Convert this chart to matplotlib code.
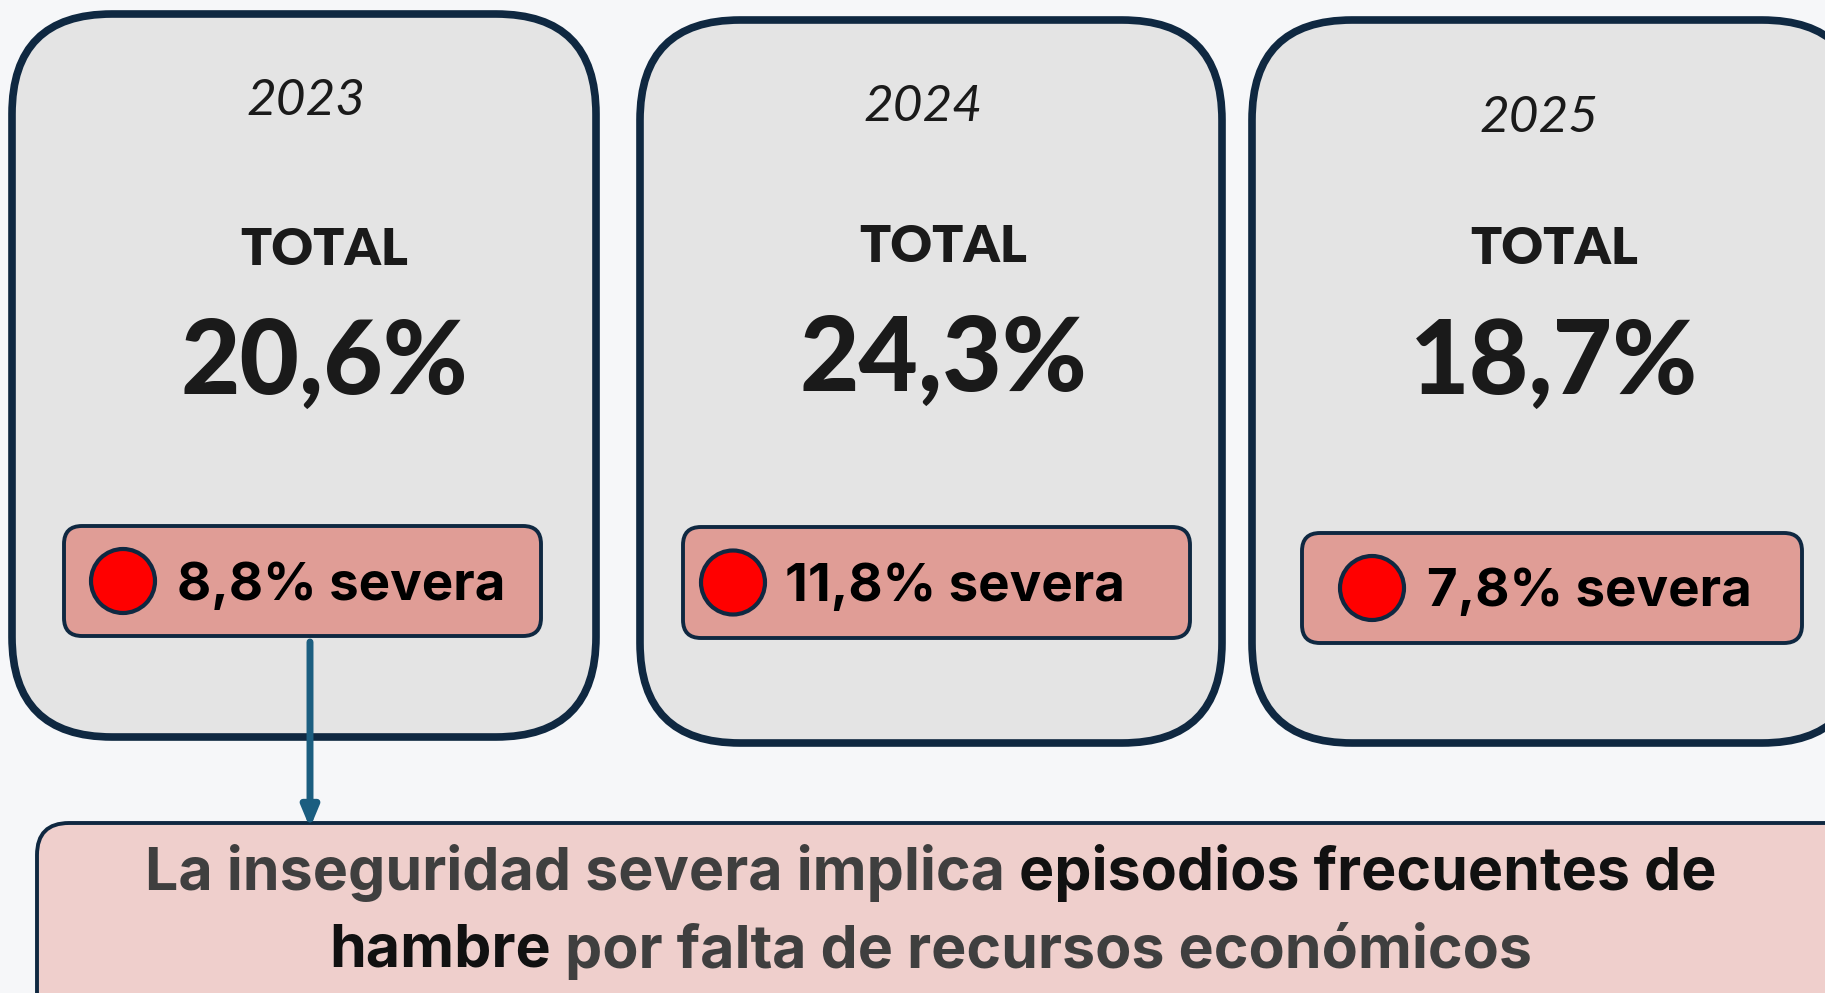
import matplotlib.pyplot as plt
from matplotlib.patches import FancyBboxPatch, Circle

# ---------- data ----------
years = ["2023", "2024", "2025"]
totals = ["20,6%", "24,3%", "18,7%"]
severe = ["8,8%", "11,8%", "7,8%"]
note_line1 = [("La inseguridad severa implica", "#3f3f3f"), ("episodios frecuentes de", "#111111")]
note_line2 = [("hambre", "#111111"), ("por falta de recursos económicos", "#3f3f3f")]

# ---------- layout (pixels) ----------
W, H = 1825, 993
navy = "#0f2841"
cards = [(12, 14, 584, 723), (640, 20, 582, 723), (1252, 20, 610, 723)]
year_x = [306, 923, 1539]
year_y = [101, 107, 118]
total_y = [250, 247, 249]
num_y = [364, 361, 364]
cx = [324, 943, 1554]
sev_box = [(64, 526, 477, 110), (683, 527, 507, 111), (1302, 533, 500, 110)]
dot_off = [59, 50, 70]
txt_off = [113, 102, 125]

fig = plt.figure(figsize=(W / 100, H / 100), dpi=100)
fig.patch.set_facecolor("#f6f7f9")
ax = fig.add_axes([0, 0, 1, 1])
ax.set_xlim(0, W); ax.set_ylim(H, 0)
ax.axis("off")

for i in range(3):
    x, y, w, h = cards[i]
    ax.add_patch(FancyBboxPatch((x, y), w, h, boxstyle="round,pad=0,rounding_size=100",
                                fc="#e4e4e4", ec=navy, lw=5.5))
    ax.text(year_x[i], year_y[i], years[i], ha="center", va="center", fontsize=37,
            style="italic", family="Lato", color="#1a1a1a")
    ax.text(cx[i], total_y[i], "TOTAL", ha="center", va="center", fontsize=37,
            weight="heavy", family="Lato", color="#1a1a1a")
    ax.text(cx[i], num_y[i], totals[i], ha="center", va="center", fontsize=74,
            weight="black", family="Lato", color="#1a1a1a")

    bx, by, bw, bh = sev_box[i]
    ax.add_patch(FancyBboxPatch((bx, by), bw, bh, boxstyle="round,pad=0,rounding_size=18",
                                fc="#e09d96", ec=navy, lw=2.8))
    ax.add_patch(Circle((bx + dot_off[i], by + bh / 2), 32, fc="#ff0000", ec=navy, lw=3))
    ax.text(bx + txt_off[i], by + bh / 2 + 5, severe[i] + " severa", ha="left", va="center",
            fontsize=38, weight="bold", family="Inter", color="#000000")

# arrow from first severity box to the note
ax.annotate("", xy=(310, 828), xytext=(310, 642),
            arrowprops=dict(arrowstyle="-|>,head_width=0.5,head_length=1.2",
                            color="#1b5e80", lw=5, shrinkA=0, shrinkB=0))

# note box
ax.add_patch(FancyBboxPatch((37, 823), 1830, 220, boxstyle="round,pad=0,rounding_size=32",
                            fc="#efcfcc", ec=navy, lw=2.8))

fig.canvas.draw()
r = fig.canvas.get_renderer()
inv = ax.transData.inverted()

def width_of(t):
    bb = t.get_window_extent(renderer=r)
    p0 = inv.transform((bb.x0, bb.y0)); p1 = inv.transform((bb.x1, bb.y1))
    return p1[0] - p0[0]

def mixed_line(parts, y, center, fs):
    arts = [ax.text(0, y, s, ha="left", va="center", fontsize=fs, weight="bold",
                    family="Inter", color=c) for s, c in parts]
    sp = ax.text(0, y, "a a", fontsize=fs, weight="bold", family="Inter")
    sp2 = ax.text(0, y, "aa", fontsize=fs, weight="bold", family="Inter")
    gap = width_of(sp) - width_of(sp2)
    sp.remove(); sp2.remove()
    ws = [width_of(a) for a in arts]
    total = sum(ws) + gap * (len(ws) - 1)
    x = center - total / 2
    for a, w in zip(arts, ws):
        a.set_x(x)
        x += w + gap

mixed_line(note_line1, 873, 931, 42.5)
mixed_line(note_line2, 951, 931, 42.5)

fig.savefig("out.png", dpi=100, facecolor=fig.get_facecolor())
